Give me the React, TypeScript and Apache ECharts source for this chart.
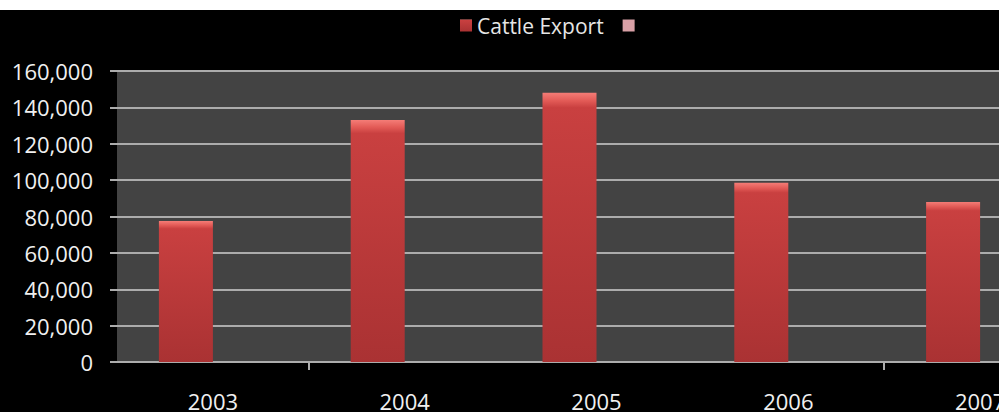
import React, { useEffect, useRef } from "react";
import * as echarts from "echarts";

const categories = ["2003", "2004", "2005", "2006", "2007"];
const cattleExport = [77500, 133000, 148000, 98500, 88000];
const emptySeries = ["-", "-", "-", "-", "-"];
const seriesNames = ["Cattle Export", " "];
const yTicks = { min: 0, max: 160000, interval: 20000 };

const FONT = "'Open Sans', 'DejaVu Sans', sans-serif";

export default function App() {
  const ref = useRef<HTMLDivElement>(null);
  useEffect(() => {
    if (!ref.current) return;
    const chart = echarts.init(ref.current, null, { renderer: "svg" });
    const gridColor = "#acacac";
    chart.setOption({
      animation: false,
      backgroundColor: "#000000",
      legend: {
        left: 455,
        top: 0,
        itemWidth: 12,
        itemHeight: 12,
        itemGap: 19,
        icon: "rect",
        textStyle: { color: "#e6e6e6", fontSize: 21, fontFamily: FONT },
        data: seriesNames,
      },
      grid: {
        left: 117,
        right: 16,
        top: 61,
        bottom: 46,
        show: true,
        backgroundColor: "#434343",
        borderWidth: 0,
      },
      xAxis: {
        type: "category",
        data: categories,
        boundaryGap: true,
        axisLine: { show: true, lineStyle: { color: gridColor, width: 2 } },
        axisTick: {
          show: true,
          length: 8,
          interval: (i: number) => i === 1 || i === 4,
          lineStyle: { color: gridColor, width: 2 },
        },
        axisLabel: {
          color: "#f0f0f0",
          fontSize: 22,
          fontFamily: FONT,
          margin: 28,
          interval: 0,
        },
      },
      yAxis: {
        type: "value",
        min: yTicks.min,
        max: yTicks.max,
        interval: yTicks.interval,
        axisLine: { show: false },
        axisTick: { show: true, length: 7, lineStyle: { color: gridColor, width: 2 } },
        splitLine: { show: true, lineStyle: { color: gridColor, width: 2 } },
        axisLabel: {
          color: "#f0f0f0",
          fontSize: 22,
          fontFamily: FONT,
          margin: 24,
          formatter: (v: number) => v.toLocaleString("en-US"),
        },
      },
      series: [
        {
          name: seriesNames[0],
          type: "bar",
          data: cattleExport,
          barWidth: 54,
          barGap: "0%",
          itemStyle: {
            color: new echarts.graphic.LinearGradient(0, 0, 0, 1, [
              { offset: 0, color: "#f47c76" },
              { offset: 0.03, color: "#e25a56" },
              { offset: 0.055, color: "#c94040" },
              { offset: 1, color: "#aa3233" },
            ]),
          },
        },
        {
          name: seriesNames[1],
          type: "bar",
          data: emptySeries,
          barWidth: 54,
          barGap: "0%",
          itemStyle: { color: "#d9a0a6" },
        },
      ],
    });
    return () => chart.dispose();
  }, []);
  return (
    <div
      style={{
        position: "absolute",
        left: 0,
        top: 0,
        width: 999,
        height: 412,
        overflow: "hidden",
        background: "#ffffff",
      }}
    >
      <div
        ref={ref}
        style={{ position: "absolute", left: 0, top: 10, width: 1092, height: 402 }}
      />
    </div>
  );
}
